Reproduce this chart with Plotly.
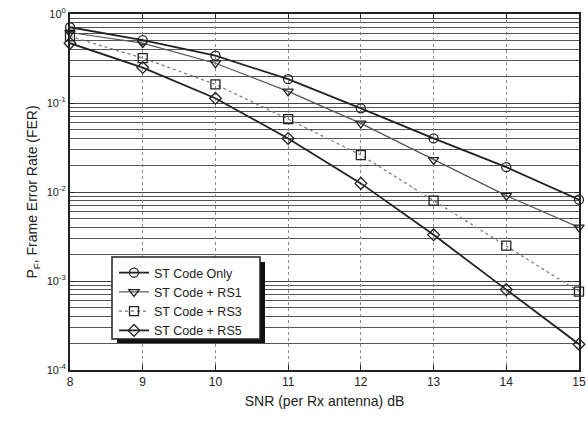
import plotly.graph_objects as go

snr = [8, 9, 10, 11, 12, 13, 14, 15]
st_only = [0.71, 0.51, 0.34, 0.185, 0.087, 0.040, 0.019, 0.0082]
st_rs1 = [0.62, 0.47, 0.28, 0.135, 0.059, 0.023, 0.0091, 0.0040]
st_rs3 = [0.56, 0.32, 0.162, 0.066, 0.026, 0.0080, 0.0025, 0.00076]
st_rs5 = [0.47, 0.25, 0.113, 0.040, 0.0125, 0.0033, 0.00080, 0.000195]

names = ["ST Code Only", "ST Code + RS1", "ST Code + RS3", "ST Code + RS5"]
series = [st_only, st_rs1, st_rs3, st_rs5]
symbols = ["circle-open", "triangle-down-open", "square-open", "diamond-open"]
colors = ["#222222", "#555555", "#777777", "#222222"]
dashes = ["solid", "solid", "dot", "solid"]
widths = [1.8, 1.2, 1.2, 1.8]

fig = go.Figure()
for n, s, sym, c, d, w in zip(names, series, symbols, colors, dashes, widths):
    fig.add_trace(go.Scatter(
        x=snr, y=s, name=n, mode="lines+markers", cliponaxis=False,
        line=dict(color=c, dash=d, width=w),
        marker=dict(symbol=sym, size=9, color="#222222", line=dict(width=1.3, color="#222222")),
    ))

decades = [10 ** e for e in range(-4, 1)]
decade_text = [f"10<sup>{e}</sup>" for e in range(-4, 1)]
minor_vals = [m * 10 ** e for e in range(-4, 0) for m in range(2, 10)]

L, R, T, B = 70, 9, 14, 53
W, H = 588, 423
pw, ph = W - L - R, H - T - B

def px(x):
    return (x - L) / pw

def py(y):
    return (H - B - y) / ph

fig.update_layout(
    width=W, height=H,
    margin=dict(l=L, r=R, t=T, b=B),
    paper_bgcolor="white", plot_bgcolor="white",
    font=dict(family="Liberation Sans, Arial, sans-serif", color="#222222", size=12),
    showlegend=True,
    legend=dict(x=px(114), y=py(258), xanchor="left", yanchor="top",
                bgcolor="rgba(0,0,0,0)", borderwidth=0,
                font=dict(size=12.5), tracegroupgap=0, itemwidth=30),
    xaxis=dict(range=[8, 15], dtick=1, tick0=8, automargin=False,
               showgrid=True, gridcolor="#888888", griddash="dot", gridwidth=1,
               showline=True, linecolor="#222222", linewidth=2, mirror="ticks",
               ticks="inside", ticklen=5, tickcolor="#222222",
               title=dict(text="SNR (per Rx antenna) dB", font=dict(size=14), standoff=8),
               zeroline=False),
    yaxis=dict(type="log", range=[-4, 0], tickvals=decades, ticktext=decade_text,
               automargin=False,
               showgrid=True, gridcolor="#444444", gridwidth=1,
               minor=dict(tickvals=minor_vals, showgrid=True, gridcolor="#555555",
                          gridwidth=1, ticks=""),
               showline=True, linecolor="#222222", linewidth=2, mirror="ticks",
               ticks="inside", ticklen=4, tickcolor="#222222", tickfont=dict(size=11),
               title=dict(text="P<sub>F</sub>, Frame Error Rate (FER)", font=dict(size=14), standoff=6),
               zeroline=False),
)

# legend shadow and box
fig.add_shape(type="rect", xref="paper", yref="paper",
              x0=px(117), x1=px(265), y0=py(343), y1=py(262),
              fillcolor="#111111", line=dict(width=0), layer="above")
fig.add_shape(type="rect", xref="paper", yref="paper",
              x0=px(112), x1=px(260), y0=py(339), y1=py(257),
              fillcolor="white", line=dict(width=1.5, color="#222222"), layer="above")

fig.write_html("out.html", config={"displayModeBar": False},
               post_script="document.body.style.margin='0';document.body.style.padding='0';")
